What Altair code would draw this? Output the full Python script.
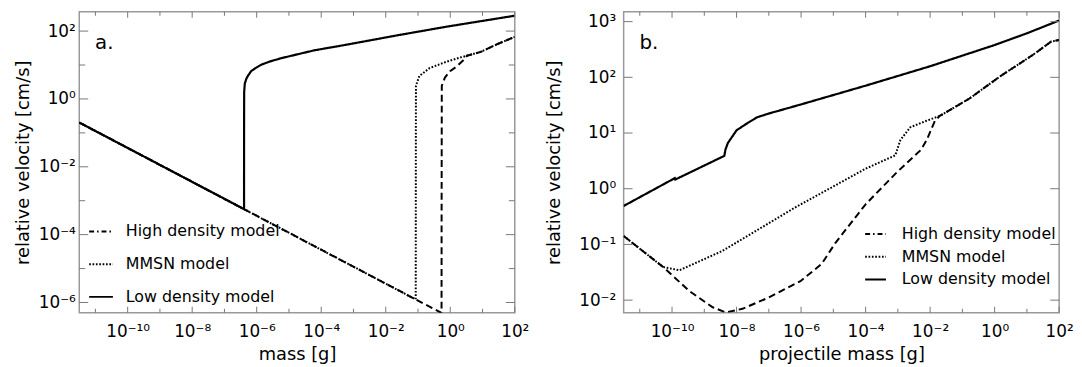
import altair as alt
import pandas as pd

FONT = "DejaVu Sans"
MODELS = ["High density model", "MMSN model", "Low density model"]
Y_TITLE = "relative velocity [cm/s]"

# ---------------- panel a ----------------
A_LOW_M = [3.16e-12, 4.055e-7, 4.06e-7, 4.09e-7, 4.27e-7, 4.79e-7, 5.50e-7, 6.76e-7, 8.91e-7,
           1.38e-6, 2.51e-6, 5.62e-6, 5.89e-5, 6.17e-4, 0.0269, 0.776, 100]
A_LOW_V = [0.202, 5.64e-4, 0.1, 1.585, 2.82, 3.98, 5.01, 6.61, 7.94,
           10.2, 12.6, 15.8, 26.9, 39.8, 77.1, 135, 284]
A_MMSN_M = [3.16e-12, 0.0851, 0.0855, 0.0859, 0.0865, 0.110, 0.229, 0.776, 2.04, 3.31, 8.79, 29.5, 100]
A_MMSN_V = [0.202, 1.23e-6, 1e-3, 0.1, 2.45, 4.74, 8.13, 12.6, 16.6, 18.8, 24.3, 41.7, 67.6]
A_HIGH_M = [3.16e-12, 0.537, 0.540, 0.547, 0.684, 0.986, 1.60, 2.61, 3.31, 8.79, 29.5, 100]
A_HIGH_V = [0.202, 4.9e-7, 1e-3, 2.45, 4.27, 6.61, 9.12, 14.1, 18.8, 24.3, 41.7, 67.6]

# ---------------- panel b ----------------
B_LOW_M = [3.16e-12, 1.216e-10, 1.259e-10, 4.17e-9, 4.52e-9, 5.37e-9, 1e-8, 2.0e-8, 4.27e-8,
           1e-7, 9.55e-7, 1e-4, 1e-2, 1, 10, 100]
B_LOW_V = [0.490, 1.549, 1.462, 3.89, 5.02, 6.61, 11.2, 14.6, 19.1,
           22.4, 32.4, 70.8, 158, 380, 617, 1047]
B_MMSN_M = [3.16e-12, 5.31e-11, 1.70e-10, 3.63e-9, 6.46e-7, 1e-4, 8.32e-4, 1.20e-3,
            2.43e-3, 7.76e-3, 0.0200, 0.166, 1.51, 15.1, 56.2, 100]
B_MMSN_V = [0.142, 0.0393, 0.0344, 0.0764, 0.459, 2.29, 3.98, 7.48,
            12.7, 16.6, 20.3, 41.7, 105, 251, 437, 468]
B_HIGH_M = [3.16e-12, 5.31e-11, 3.47e-10, 1.82e-9, 4.62e-9, 1.51e-8, 9.77e-8, 9.55e-7,
            4.37e-6, 1.15e-5, 1e-4, 9.33e-4, 5.25e-3, 7.83e-3, 0.0141, 0.0200,
            0.166, 1.51, 15.1, 56.2, 100]
B_HIGH_V = [0.142, 0.0393, 0.0145, 7.45e-3, 6.03e-3, 6.98e-3, 0.0111, 0.0219,
            0.0449, 0.106, 0.525, 1.98, 5.01, 7.48, 16.6, 20.3,
            41.7, 105, 251, 437, 468]

# ---------------- axes ----------------
X_DOMAIN = [3.16e-12, 100]
A_Y_DOMAIN = [5e-7, 3.7e2]
B_Y_DOMAIN = [5.95e-3, 1.5e3]

X_MAJOR = [1e-10, 1e-8, 1e-6, 1e-4, 1e-2, 1, 1e2]
X_LABELS = ["10⁻¹⁰", "10⁻⁸", "10⁻⁶", "10⁻⁴", "10⁻²", "10⁰", "10²"]
X_MINOR = [1e-11, 1e-9, 1e-7, 1e-5, 1e-3, 1e-1, 1e1]

A_Y_MAJOR = [1e-6, 1e-4, 1e-2, 1, 1e2]
A_Y_LABELS = ["10⁻⁶", "10⁻⁴", "10⁻²", "10⁰", "10²"]
A_Y_MINOR = [1e-5, 1e-3, 1e-1, 1e1]

B_Y_MAJOR = [1e-2, 1e-1, 1, 1e1, 1e2, 1e3]
B_Y_LABELS = ["10⁻²", "10⁻¹", "10⁰", "10¹", "10²", "10³"]
B_Y_MINOR = []

W, H = 440, 304
TICK = "#777777"


def label_expr(values, labels):
    expr = ""
    for v, s in zip(values[:-1], labels[:-1]):
        expr += f"datum.value < {v * 3:g} ? '{s}' : "
    return expr + f"'{labels[-1]}'"


def series(m, v, model):
    return pd.DataFrame({"m": m, "v": v, "model": model, "i": list(range(len(m)))})


def panel(low, mmsn, high, y_domain, y_major, y_labels, y_minor, x_title, tag,
          y_label_pad, y_extent, y_title_pad, leg):
    x_enc = alt.X("m:Q", scale=alt.Scale(type="log", domain=X_DOMAIN, nice=False),
                  axis=alt.Axis(values=X_MAJOR, labelExpr=label_expr(X_MAJOR, X_LABELS),
                                ticks=False, domain=False, grid=False, labelFlush=False,
                                labelOverlap=False, labelPadding=11, titlePadding=6),
                  title=x_title)
    y_enc = alt.Y("v:Q", scale=alt.Scale(type="log", domain=y_domain, nice=False),
                  axis=alt.Axis(values=y_major, labelExpr=label_expr(y_major, y_labels),
                                ticks=False, domain=False, grid=False,
                                labelOverlap=False, labelPadding=y_label_pad,
                                minExtent=y_extent, maxExtent=y_extent,
                                titlePadding=y_title_pad),
                  title=Y_TITLE)
    dash = alt.StrokeDash(
        "model:N",
        scale=alt.Scale(domain=MODELS, range=[[5, 3, 1.5, 3], [1.7, 1.7], [1, 0]]),
        legend=alt.Legend(orient="none", legendX=leg["x"], legendY=leg["y"], title=None,
                          symbolType="stroke", symbolSize=leg["size"], symbolStrokeWidth=2,
                          symbolStrokeColor="black", labelFont=FONT, labelFontSize=16,
                          labelColor="black", labelOffset=leg["off"], rowPadding=leg["row"],
                          padding=0, labelLimit=400))
    order = alt.Order("i:Q")

    high_l = alt.Chart(series(high[0], high[1], MODELS[0])).mark_line(
        color="black", strokeWidth=2, strokeDash=[7, 4], clip=True
    ).encode(x=x_enc, y=y_enc, order=order)
    mmsn_l = alt.Chart(series(mmsn[0], mmsn[1], MODELS[1])).mark_line(
        color="black", strokeWidth=2, clip=True
    ).encode(x=x_enc, y=y_enc, order=order, strokeDash=dash)
    low_l = alt.Chart(series(low[0], low[1], MODELS[2])).mark_line(
        color="black", strokeWidth=2.2, clip=True
    ).encode(x=x_enc, y=y_enc, order=order, strokeDash=dash)

    layers = [high_l, mmsn_l, low_l]

    def xticks(vals, n):
        d = pd.DataFrame({"m": vals})
        return [
            alt.Chart(d).mark_rule(color=TICK, strokeWidth=1).encode(
                x=x_enc, y=alt.value(H), y2=alt.value(H - n)),
            alt.Chart(d).mark_rule(color=TICK, strokeWidth=1).encode(
                x=x_enc, y=alt.value(0), y2=alt.value(n)),
        ]

    def yticks(vals, n):
        d = pd.DataFrame({"v": vals})
        return [
            alt.Chart(d).mark_rule(color=TICK, strokeWidth=1).encode(
                y=y_enc, x=alt.value(0), x2=alt.value(n)),
            alt.Chart(d).mark_rule(color=TICK, strokeWidth=1).encode(
                y=y_enc, x=alt.value(W), x2=alt.value(W - n)),
        ]

    layers += xticks(X_MAJOR, 6) + xticks(X_MINOR, 4) + yticks(y_major, 9)
    if y_minor:
        layers += yticks(y_minor, 6)

    txt = alt.Chart(pd.DataFrame({"t": [tag]})).mark_text(
        align="left", baseline="alphabetic", font=FONT, fontSize=20, color="black"
    ).encode(text="t:N", x=alt.value(16), y=alt.value(38))
    layers.append(txt)

    return alt.layer(*layers).properties(width=W, height=H)


pa = panel((A_LOW_M, A_LOW_V), (A_MMSN_M, A_MMSN_V), (A_HIGH_M, A_HIGH_V),
           A_Y_DOMAIN, A_Y_MAJOR, A_Y_LABELS, A_Y_MINOR, "mass [g]", "a.",
           4, 38, 9, dict(x=9, y=209, size=576, off=12, row=12))
pb = panel((B_LOW_M, B_LOW_V), (B_MMSN_M, B_MMSN_V), (B_HIGH_M, B_HIGH_V),
           B_Y_DOMAIN, B_Y_MAJOR, B_Y_LABELS, B_Y_MINOR, "projectile mass [g]", "b.",
           8, 41, 20, dict(x=243, y=213, size=441, off=15, row=3))

chart = alt.hconcat(pa, pb, spacing=110, bounds="flush").resolve_scale(
    x="independent", y="independent", strokeDash="independent"
).resolve_legend(strokeDash="independent").properties(
    padding={"left": 6, "top": 0, "right": 0, "bottom": 0}
).configure_axis(
    labelFont=FONT, labelFontSize=17, labelColor="black",
    titleFont=FONT, titleFontSize=18, titleFontWeight="normal", titleColor="black"
).configure_view(stroke="#999999", strokeWidth=1.5)

chart.save("out.html", embed_options={"renderer": "svg", "actions": False})
